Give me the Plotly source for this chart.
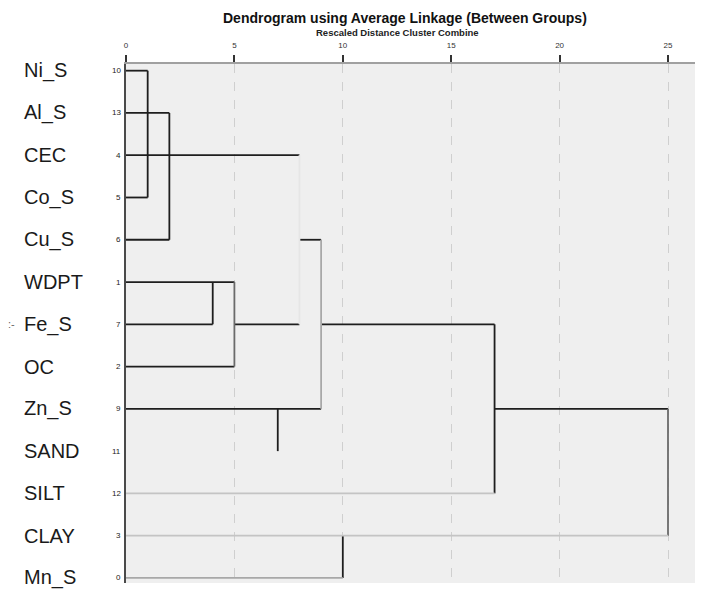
import plotly.graph_objects as go

# ---------------- data ----------------
variables = ["Ni_S", "Al_S", "CEC", "Co_S", "Cu_S", "WDPT", "Fe_S", "OC",
             "Zn_S", "SAND", "SILT", "CLAY", "Mn_S"]
case_numbers = ["10", "13", "4", "5", "6", "1", "7", "2", "9", "11", "12", "3", "0"]
x_ticks = [0, 5, 10, 15, 20, 25]

# horizontal links: row index, start distance, end distance, shade group
h_row   = [0, 3, 1, 4, 2, 4, 5, 6, 6, 7, 6, 8, 10, 8, 11, 12]
h_start = [0, 0, 0, 0, 0, 8, 0, 0, 5, 0, 9, 0, 0, 17, 0, 0]
h_end   = [1, 1, 2, 2, 8, 9, 5, 4, 8, 5, 17, 9, 17, 25, 25, 10]
h_shade = ["dark", "dark", "dark", "dark", "dark", "dark", "dark", "dark", "dark",
           "dark", "dark", "dark", "light", "dark", "light", "mid"]

# vertical links: distance, top row, bottom row, shade group
v_dist   = [1, 2, 8, 9, 4, 5, 7, 17, 25, 10]
v_top    = [0, 1, 2, 4, 5, 5, 8, 6, 8, 11]
v_bottom = [3, 4, 6, 8, 6, 7, 9, 10, 11, 12]
v_shade  = ["dark", "dark", "faint", "mid", "dark", "grey", "dark", "dark", "grey", "dark"]

title_text = "Dendrogram using Average Linkage (Between Groups)"
subtitle_text = "Rescaled Distance Cluster Combine"

# ---------------- styling ----------------
shade_colors = {"dark": "#1e1e1e", "grey": "#6a6a6a", "mid": "#a8a8a8",
                "light": "#c4c4c4", "faint": "#e6e6e6"}

fig = go.Figure()
for shade, color in shade_colors.items():
    xs, ys = [], []
    for r, a, b, s in zip(h_row, h_start, h_end, h_shade):
        if s == shade:
            xs += [a, b, None]
            ys += [r, r, None]
    for d, t, bt, s in zip(v_dist, v_top, v_bottom, v_shade):
        if s == shade:
            xs += [d, d, None]
            ys += [t, bt, None]
    if xs:
        fig.add_trace(go.Scatter(x=xs, y=ys, mode="lines",
                                 line=dict(color=color, width=1.8),
                                 hoverinfo="skip", showlegend=False))

OFF = 8  # page body margin
W, H = 703 - OFF, 600 - OFF
L, T = 126 - OFF, 64 - OFF
R = W - (698 - OFF)
B = H - (583 - OFF)
pw, ph = W - L - R, H - T - B

def px_x(px):
    return (px - OFF - L) / pw

def px_y(py):
    return (H - B - (py - OFF)) / ph

FONT = "Liberation Sans, Arial"
annotations = []
for i, (name, num) in enumerate(zip(variables, case_numbers)):
    annotations.append(dict(x=px_x(22), xref="paper", y=i, yref="y",
                            text=name, showarrow=False, xanchor="left",
                            yanchor="middle",
                            font=dict(family=FONT, size=20, color="#1a1a1a")))
    annotations.append(dict(x=px_x(123), xref="paper", y=i, yref="y",
                            text=num, showarrow=False, xanchor="right",
                            yanchor="middle",
                            font=dict(family=FONT, size=8, color="#222")))
annotations.append(dict(x=px_x(6), xref="paper", y=6, yref="y", text=":-",
                        showarrow=False, xanchor="left", yanchor="middle",
                        font=dict(family=FONT, size=11, color="#666")))
annotations.append(dict(x=px_x(405), xref="paper", y=px_y(8.5), yref="paper",
                        text="<b>" + title_text + "</b>", showarrow=False,
                        xanchor="center", yanchor="top", borderpad=0,
                        font=dict(family=FONT, size=14, color="#111")))
annotations.append(dict(x=px_x(397), xref="paper", y=px_y(32), yref="paper",
                        text="<b>" + subtitle_text + "</b>", showarrow=False,
                        xanchor="center", yanchor="middle", borderpad=0,
                        font=dict(family=FONT, size=9.5, color="#222")))

fig.update_layout(
    width=W, height=H,
    margin=dict(l=L, r=R, t=T, b=B, pad=0),
    paper_bgcolor="white",
    plot_bgcolor="#efefef",
    annotations=annotations,
    xaxis=dict(side="top", range=[0, pw / 21.68], tickvals=x_ticks,
               ticktext=[str(v) for v in x_ticks],
               ticks="outside", ticklen=7, tickwidth=1.5, tickcolor="#333",
               tickfont=dict(family=FONT, size=8, color="#333"),
               ticklabelstandoff=4,
               showgrid=True, gridcolor="#cfcfcf", griddash="dash", gridwidth=1,
               showline=True, linecolor="#a0a0a0", linewidth=1.5,
               zeroline=False, fixedrange=True),
    yaxis=dict(range=[12.12, -0.158], showticklabels=False, ticks="",
               showgrid=False, zeroline=False, showline=True,
               linecolor="#4a4a4a", linewidth=2, fixedrange=True),
)

fig.write_html("out.html")
